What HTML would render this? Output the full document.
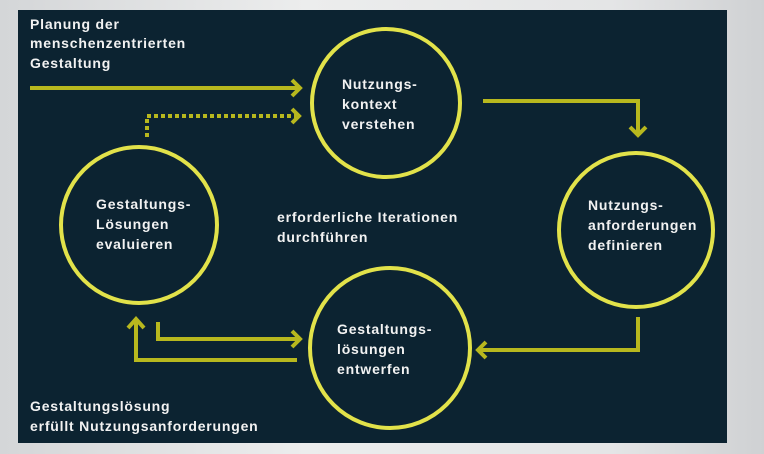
<!DOCTYPE html>
<html><head><meta charset="utf-8"><style>
html,body{margin:0;padding:0;}
body{width:764px;height:454px;overflow:hidden;background:linear-gradient(90deg,#d4d6d8,#eceded 40%,#e4e5e6 80%,#cfd1d3);position:relative;font-family:"Liberation Sans",sans-serif;}
svg{position:absolute;left:0;top:0;}
</style></head><body>
<svg width="764" height="454" viewBox="0 0 764 454">
<rect x="18" y="10" width="709" height="433" fill="#0c2331"/>
<g fill="none" stroke="#e2e24a" stroke-width="4">
<circle cx="386" cy="103" r="74"/>
<circle cx="636" cy="230" r="77"/>
<circle cx="390" cy="348" r="80"/>
<circle cx="139" cy="225" r="78"/>
</g>
<g fill="none" stroke="#b8b81e" stroke-width="4" stroke-linejoin="miter">
<line x1="30" y1="88" x2="299" y2="88"/>
<polyline points="292,80 300,88 292,96"/>
<polyline points="147,137 147,116 296,116" stroke-dasharray="4,3"/>
<polyline points="292,109 299,116 292,123"/>
<polyline points="483,101 638,101 638,133"/>
<polyline points="630,127 638,135 646,127"/>
<polyline points="638,317 638,350 480,350"/>
<polyline points="486,342 478,350 486,358"/>
<polyline points="297,360 136,360 136,321"/>
<polyline points="128,328 136,319 144,328"/>
<polyline points="158,322 158,339 298,339"/>
<polyline points="292,331 300,339 292,347"/>
</g>
<g fill="#f2f2f2" font-family="Liberation Sans, sans-serif" font-size="14" font-weight="bold" letter-spacing="0.8">
<text x="30" y="29">Planung der</text>
<text x="30" y="48">menschenzentrierten</text>
<text x="30" y="68">Gestaltung</text>
<text x="342" y="89">Nutzungs-</text>
<text x="342" y="109">kontext</text>
<text x="342" y="129">verstehen</text>
<text x="96" y="209">Gestaltungs-</text>
<text x="96" y="229">Lösungen</text>
<text x="96" y="249">evaluieren</text>
<text x="277" y="222">erforderliche Iterationen</text>
<text x="277" y="242">durchführen</text>
<text x="588" y="210">Nutzungs-</text>
<text x="588" y="230">anforderungen</text>
<text x="588" y="250">definieren</text>
<text x="337" y="334">Gestaltungs-</text>
<text x="337" y="354">lösungen</text>
<text x="337" y="374">entwerfen</text>
<text x="30" y="411">Gestaltungslösung</text>
<text x="30" y="431">erfüllt Nutzungsanforderungen</text>
</g>
</svg>
</body></html>
